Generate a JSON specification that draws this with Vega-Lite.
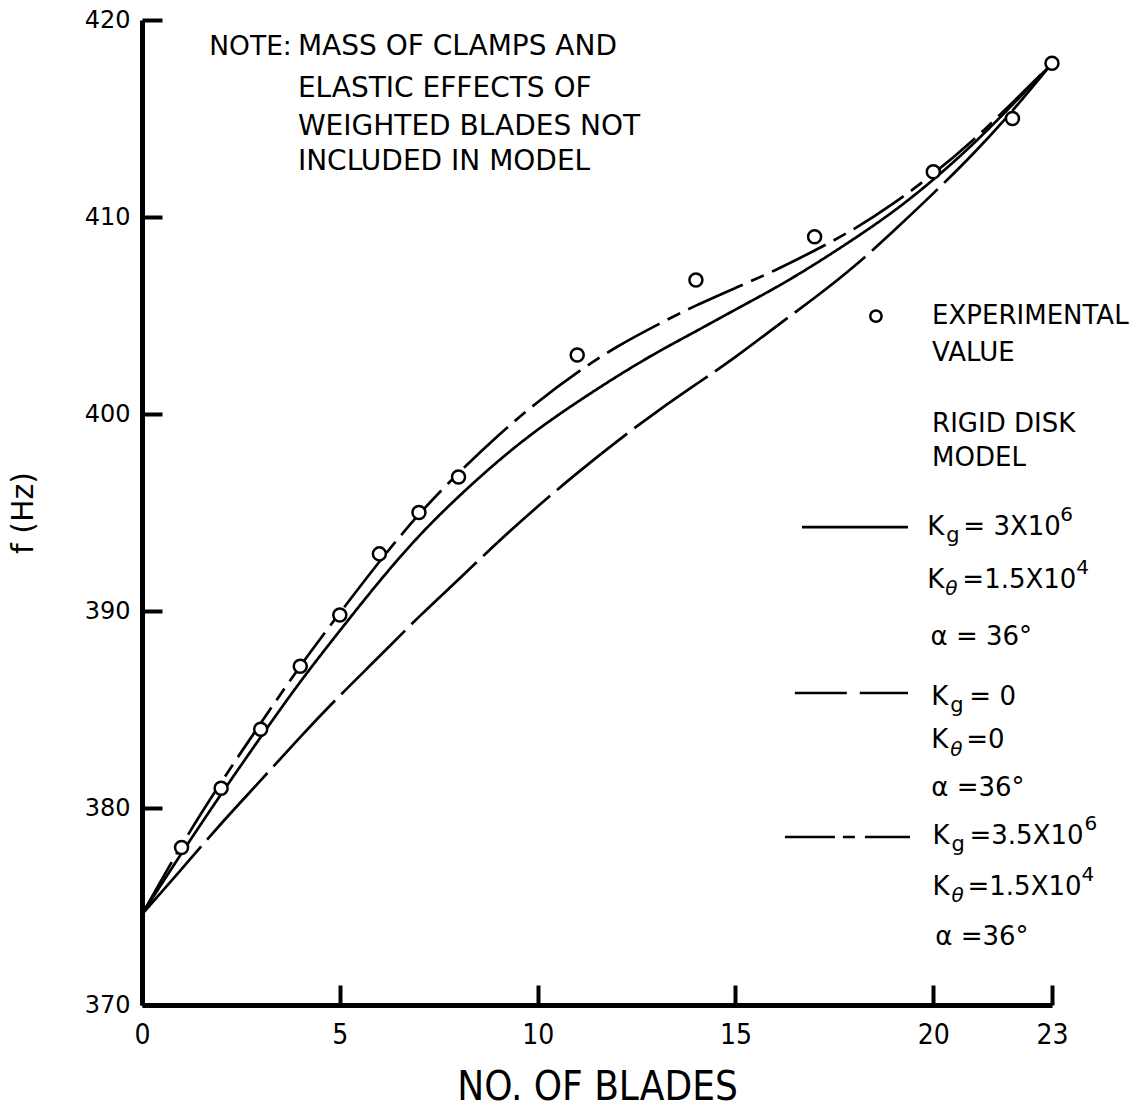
{
  "$schema": "https://vega.github.io/schema/vega-lite/v6.json",
  "width": 910,
  "height": 985,
  "autosize": {"type": "none"},
  "padding": {"left": 142, "top": 20, "right": 94, "bottom": 109},
  "background": "white",
  "config": {
    "view": {"stroke": null},
    "text": {"font": "DejaVu Sans", "fontSize": 26, "color": "black", "align": "left", "baseline": "middle"}
  },
  "datasets": {
    "curves": [
      {"model": "Kg=3e6", "n": 0, "f": 374.6}, {"model": "Kg=3e6", "n": 1, "f": 377.7}, {"model": "Kg=3e6", "n": 2, "f": 380.7},
      {"model": "Kg=3e6", "n": 3, "f": 383.6}, {"model": "Kg=3e6", "n": 4, "f": 386.4}, {"model": "Kg=3e6", "n": 5, "f": 389.0},
      {"model": "Kg=3e6", "n": 6, "f": 391.5}, {"model": "Kg=3e6", "n": 7, "f": 393.8}, {"model": "Kg=3e6", "n": 8, "f": 395.8},
      {"model": "Kg=3e6", "n": 9, "f": 397.6}, {"model": "Kg=3e6", "n": 10, "f": 399.2}, {"model": "Kg=3e6", "n": 11, "f": 400.6},
      {"model": "Kg=3e6", "n": 12, "f": 401.9}, {"model": "Kg=3e6", "n": 13, "f": 403.1}, {"model": "Kg=3e6", "n": 14, "f": 404.2},
      {"model": "Kg=3e6", "n": 15, "f": 405.3}, {"model": "Kg=3e6", "n": 16, "f": 406.4}, {"model": "Kg=3e6", "n": 17, "f": 407.6},
      {"model": "Kg=3e6", "n": 18, "f": 408.9}, {"model": "Kg=3e6", "n": 19, "f": 410.3}, {"model": "Kg=3e6", "n": 20, "f": 411.9},
      {"model": "Kg=3e6", "n": 21, "f": 413.7}, {"model": "Kg=3e6", "n": 22, "f": 415.7}, {"model": "Kg=3e6", "n": 23, "f": 417.8},
      {"model": "Kg=0", "n": 0, "f": 374.6}, {"model": "Kg=0", "n": 1, "f": 376.9}, {"model": "Kg=0", "n": 2, "f": 379.2},
      {"model": "Kg=0", "n": 3, "f": 381.4}, {"model": "Kg=0", "n": 4, "f": 383.6}, {"model": "Kg=0", "n": 5, "f": 385.7},
      {"model": "Kg=0", "n": 6, "f": 387.7}, {"model": "Kg=0", "n": 7, "f": 389.7}, {"model": "Kg=0", "n": 8, "f": 391.6},
      {"model": "Kg=0", "n": 9, "f": 393.5}, {"model": "Kg=0", "n": 10, "f": 395.3}, {"model": "Kg=0", "n": 11, "f": 397.0},
      {"model": "Kg=0", "n": 12, "f": 398.6}, {"model": "Kg=0", "n": 13, "f": 400.1}, {"model": "Kg=0", "n": 14, "f": 401.5},
      {"model": "Kg=0", "n": 15, "f": 402.9}, {"model": "Kg=0", "n": 16, "f": 404.4}, {"model": "Kg=0", "n": 17, "f": 405.9},
      {"model": "Kg=0", "n": 18, "f": 407.5}, {"model": "Kg=0", "n": 19, "f": 409.3}, {"model": "Kg=0", "n": 20, "f": 411.2},
      {"model": "Kg=0", "n": 21, "f": 413.2}, {"model": "Kg=0", "n": 22, "f": 415.4}, {"model": "Kg=0", "n": 23, "f": 417.8},
      {"model": "Kg=3.5e6", "n": 0, "f": 374.6}, {"model": "Kg=3.5e6", "n": 1, "f": 378.1}, {"model": "Kg=3.5e6", "n": 2, "f": 381.3},
      {"model": "Kg=3.5e6", "n": 3, "f": 384.3}, {"model": "Kg=3.5e6", "n": 4, "f": 387.2}, {"model": "Kg=3.5e6", "n": 5, "f": 389.9},
      {"model": "Kg=3.5e6", "n": 6, "f": 392.5}, {"model": "Kg=3.5e6", "n": 7, "f": 394.9}, {"model": "Kg=3.5e6", "n": 8, "f": 397.0},
      {"model": "Kg=3.5e6", "n": 9, "f": 398.9}, {"model": "Kg=3.5e6", "n": 10, "f": 400.6}, {"model": "Kg=3.5e6", "n": 11, "f": 402.1},
      {"model": "Kg=3.5e6", "n": 12, "f": 403.4}, {"model": "Kg=3.5e6", "n": 13, "f": 404.5}, {"model": "Kg=3.5e6", "n": 14, "f": 405.5},
      {"model": "Kg=3.5e6", "n": 15, "f": 406.4}, {"model": "Kg=3.5e6", "n": 16, "f": 407.3}, {"model": "Kg=3.5e6", "n": 17, "f": 408.3},
      {"model": "Kg=3.5e6", "n": 18, "f": 409.4}, {"model": "Kg=3.5e6", "n": 19, "f": 410.7}, {"model": "Kg=3.5e6", "n": 20, "f": 412.2},
      {"model": "Kg=3.5e6", "n": 21, "f": 413.9}, {"model": "Kg=3.5e6", "n": 22, "f": 415.8}, {"model": "Kg=3.5e6", "n": 23, "f": 417.8}
    ],
    "experimental": [
      {"n": 1, "f": 378.0}, {"n": 2, "f": 381.0}, {"n": 3, "f": 384.0}, {"n": 4, "f": 387.2},
      {"n": 5, "f": 389.8}, {"n": 6, "f": 392.9}, {"n": 7, "f": 395.0}, {"n": 8, "f": 396.8},
      {"n": 11, "f": 403.0}, {"n": 14, "f": 406.8}, {"n": 17, "f": 409.0}, {"n": 20, "f": 412.3},
      {"n": 22, "f": 415.0}, {"n": 23, "f": 417.8}
    ]
  },
  "layer": [
    {
      "data": {"name": "curves"},
      "mark": {"type": "line", "interpolate": "natural", "color": "black", "strokeWidth": 2.7},
      "encoding": {
        "x": {"field": "n", "type": "quantitative", "scale": {"domain": [0, 23], "nice": false, "zero": false},
          "axis": {"title": "NO. OF BLADES", "values": [0, 5, 10, 15, 20, 23], "grid": false,
            "tickSize": -20, "tickWidth": 4, "tickColor": "black", "domainWidth": 5, "domainColor": "black",
            "labelPadding": 36, "labelFont": "'Liberation Sans Narrow', 'DejaVu Sans Condensed', 'Liberation Sans'",
            "labelFontSize": 28, "labelColor": "black", "labelFlush": false,
            "titleFont": "'Liberation Sans Narrow', 'DejaVu Sans Condensed', 'Liberation Sans'",
            "titleFontSize": 40, "titleFontWeight": "normal", "titleColor": "black", "titlePadding": 18}},
        "y": {"field": "f", "type": "quantitative", "scale": {"domain": [370, 420], "nice": false, "zero": false},
          "axis": {"title": "f (Hz)", "values": [370, 380, 390, 400, 410, 420], "grid": false,
            "tickSize": -20, "tickWidth": 4, "tickColor": "black", "domainWidth": 5, "domainColor": "black",
            "labelPadding": 32, "labelFont": "DejaVu Sans", "labelFontSize": 24, "labelColor": "black", "labelFlush": false,
            "titleFont": "DejaVu Sans", "titleFontSize": 30, "titleFontWeight": "normal", "titleColor": "black", "titlePadding": 46}},
        "strokeDash": {"field": "model", "type": "nominal", "legend": null,
          "scale": {"domain": ["Kg=3e6", "Kg=0", "Kg=3.5e6"], "range": [[1, 0], [90, 9], [60, 9, 14, 9]]}}
      }
    },
    {
      "data": {"name": "experimental"},
      "mark": {"type": "point", "shape": "circle", "filled": false, "fill": "white", "stroke": "black", "strokeWidth": 2.5, "size": 170, "opacity": 1},
      "encoding": {
        "x": {"field": "n", "type": "quantitative"},
        "y": {"field": "f", "type": "quantitative"}
      }
    },
    {"data": {"values": [{}]}, "mark": {"type": "point", "shape": "circle", "filled": false, "fill": "white", "stroke": "black", "strokeWidth": 2.5, "size": 130, "opacity": 1},
     "encoding": {"x": {"datum": 18.55}, "y": {"datum": 404.97}}},
    {"data": {"values": [{}]}, "mark": {"type": "rule", "color": "black", "strokeWidth": 2.6},
     "encoding": {"x": {"datum": 16.68}, "x2": {"datum": 19.36}, "y": {"datum": 394.26}}},
    {"data": {"values": [{}]}, "mark": {"type": "rule", "color": "black", "strokeWidth": 2.6, "strokeDash": [52, 13]},
     "encoding": {"x": {"datum": 16.5}, "x2": {"datum": 19.36}, "y": {"datum": 385.84}}},
    {"data": {"values": [{}]}, "mark": {"type": "rule", "color": "black", "strokeWidth": 2.6, "strokeDash": [50, 8, 12, 10]},
     "encoding": {"x": {"datum": 16.25}, "x2": {"datum": 19.41}, "y": {"datum": 378.53}}},

    {"data": {"values": [{}]}, "mark": {"type": "text", "text": "NOTE:", "fontSize": 26.5}, "encoding": {"x": {"datum": 1.7}, "y": {"datum": 418.63}}},
    {"data": {"values": [{}]}, "mark": {"type": "text", "text": "MASS OF CLAMPS AND", "fontSize": 28}, "encoding": {"x": {"datum": 3.94}, "y": {"datum": 418.63}}},
    {"data": {"values": [{}]}, "mark": {"type": "text", "text": "ELASTIC EFFECTS OF", "fontSize": 28}, "encoding": {"x": {"datum": 3.94}, "y": {"datum": 416.5}}},
    {"data": {"values": [{}]}, "mark": {"type": "text", "text": "WEIGHTED BLADES NOT", "fontSize": 28}, "encoding": {"x": {"datum": 3.94}, "y": {"datum": 414.57}}},
    {"data": {"values": [{}]}, "mark": {"type": "text", "text": "INCLUDED IN MODEL", "fontSize": 28}, "encoding": {"x": {"datum": 3.94}, "y": {"datum": 412.79}}},

    {"data": {"values": [{}]}, "mark": {"type": "text", "text": "EXPERIMENTAL"}, "encoding": {"x": {"datum": 19.97}, "y": {"datum": 404.97}}},
    {"data": {"values": [{}]}, "mark": {"type": "text", "text": "VALUE"}, "encoding": {"x": {"datum": 19.97}, "y": {"datum": 403.1}}},
    {"data": {"values": [{}]}, "mark": {"type": "text", "text": "RIGID DISK"}, "encoding": {"x": {"datum": 19.97}, "y": {"datum": 399.49}}},
    {"data": {"values": [{}]}, "mark": {"type": "text", "text": "MODEL"}, "encoding": {"x": {"datum": 19.97}, "y": {"datum": 397.77}}},

    {"data": {"values": [{}]}, "mark": {"type": "text", "text": "K"}, "encoding": {"x": {"datum": 19.85}, "y": {"datum": 394.26}}},
    {"data": {"values": [{}]}, "mark": {"type": "text", "text": "g", "fontSize": 21, "dx": 19, "dy": 9}, "encoding": {"x": {"datum": 19.85}, "y": {"datum": 394.26}}},
    {"data": {"values": [{}]}, "mark": {"type": "text", "text": "= 3X10", "dx": 36}, "encoding": {"x": {"datum": 19.85}, "y": {"datum": 394.26}}},
    {"data": {"values": [{}]}, "mark": {"type": "text", "text": "6", "fontSize": 20, "dx": 133, "dy": -12}, "encoding": {"x": {"datum": 19.85}, "y": {"datum": 394.26}}},
    {"data": {"values": [{}]}, "mark": {"type": "text", "text": "K"}, "encoding": {"x": {"datum": 19.85}, "y": {"datum": 391.57}}},
    {"data": {"values": [{}]}, "mark": {"type": "text", "text": "θ", "fontSize": 20, "fontStyle": "italic", "dx": 18, "dy": 9}, "encoding": {"x": {"datum": 19.85}, "y": {"datum": 391.57}}},
    {"data": {"values": [{}]}, "mark": {"type": "text", "text": "=1.5X10", "dx": 35}, "encoding": {"x": {"datum": 19.85}, "y": {"datum": 391.57}}},
    {"data": {"values": [{}]}, "mark": {"type": "text", "text": "4", "fontSize": 20, "dx": 149, "dy": -12}, "encoding": {"x": {"datum": 19.85}, "y": {"datum": 391.57}}},
    {"data": {"values": [{}]}, "mark": {"type": "text", "text": "α = 36°"}, "encoding": {"x": {"datum": 19.93}, "y": {"datum": 388.68}}},

    {"data": {"values": [{}]}, "mark": {"type": "text", "text": "K"}, "encoding": {"x": {"datum": 19.95}, "y": {"datum": 385.63}}},
    {"data": {"values": [{}]}, "mark": {"type": "text", "text": "g", "fontSize": 21, "dx": 19, "dy": 9}, "encoding": {"x": {"datum": 19.95}, "y": {"datum": 385.63}}},
    {"data": {"values": [{}]}, "mark": {"type": "text", "text": "= 0", "dx": 38}, "encoding": {"x": {"datum": 19.95}, "y": {"datum": 385.63}}},
    {"data": {"values": [{}]}, "mark": {"type": "text", "text": "K"}, "encoding": {"x": {"datum": 19.95}, "y": {"datum": 383.45}}},
    {"data": {"values": [{}]}, "mark": {"type": "text", "text": "θ", "fontSize": 20, "fontStyle": "italic", "dx": 19, "dy": 10}, "encoding": {"x": {"datum": 19.95}, "y": {"datum": 383.45}}},
    {"data": {"values": [{}]}, "mark": {"type": "text", "text": "=0", "dx": 35}, "encoding": {"x": {"datum": 19.95}, "y": {"datum": 383.45}}},
    {"data": {"values": [{}]}, "mark": {"type": "text", "text": "α =36°"}, "encoding": {"x": {"datum": 19.95}, "y": {"datum": 381.02}}},

    {"data": {"values": [{}]}, "mark": {"type": "text", "text": "K"}, "encoding": {"x": {"datum": 19.98}, "y": {"datum": 378.58}}},
    {"data": {"values": [{}]}, "mark": {"type": "text", "text": "g", "fontSize": 21, "dx": 19, "dy": 9}, "encoding": {"x": {"datum": 19.98}, "y": {"datum": 378.58}}},
    {"data": {"values": [{}]}, "mark": {"type": "text", "text": "=3.5X10", "dx": 37}, "encoding": {"x": {"datum": 19.98}, "y": {"datum": 378.58}}},
    {"data": {"values": [{}]}, "mark": {"type": "text", "text": "6", "fontSize": 20, "dx": 152, "dy": -12}, "encoding": {"x": {"datum": 19.98}, "y": {"datum": 378.58}}},
    {"data": {"values": [{}]}, "mark": {"type": "text", "text": "K"}, "encoding": {"x": {"datum": 19.98}, "y": {"datum": 375.99}}},
    {"data": {"values": [{}]}, "mark": {"type": "text", "text": "θ", "fontSize": 20, "fontStyle": "italic", "dx": 19, "dy": 9}, "encoding": {"x": {"datum": 19.98}, "y": {"datum": 375.99}}},
    {"data": {"values": [{}]}, "mark": {"type": "text", "text": "=1.5X10", "dx": 35}, "encoding": {"x": {"datum": 19.98}, "y": {"datum": 375.99}}},
    {"data": {"values": [{}]}, "mark": {"type": "text", "text": "4", "fontSize": 20, "dx": 149, "dy": -12}, "encoding": {"x": {"datum": 19.98}, "y": {"datum": 375.99}}},
    {"data": {"values": [{}]}, "mark": {"type": "text", "text": "α =36°"}, "encoding": {"x": {"datum": 20.05}, "y": {"datum": 373.45}}}
  ]
}
